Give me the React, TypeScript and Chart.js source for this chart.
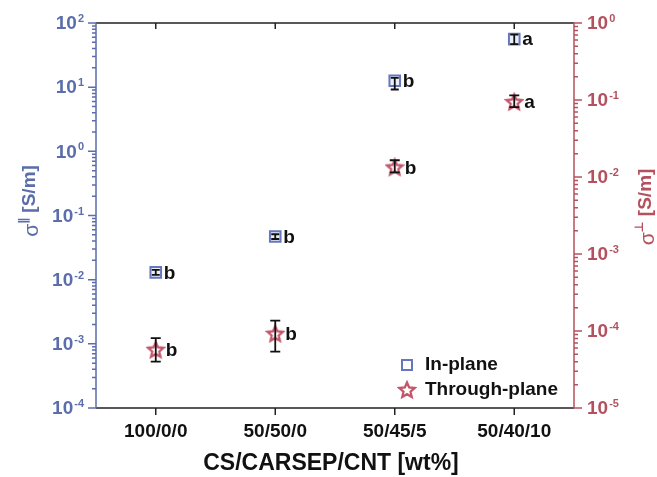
import React, { useEffect, useRef } from 'react';
import { Chart, registerables } from 'chart.js';

Chart.register(...registerables);

const categories = ['100/0/0', '50/50/0', '50/45/5', '50/40/10'];
const inPlane = [0.013, 0.047, 12.6, 56];
const inPlaneLow = [0.0119, 0.043, 9.2, 47];
const inPlaneHigh = [0.0142, 0.051, 14, 66];
const inPlaneLetters = ['b', 'b', 'b', 'a'];
const throughPlane = [5.7e-5, 9.2e-5, 0.0133, 0.094];
const throughLow = [4.0e-5, 5.4e-5, 0.0115, 0.081];
const throughHigh = [8.1e-5, 1.36e-4, 0.0165, 0.115];
const throughLetters = ['b', 'b', 'b', 'a'];
const leftExponents = [-4, -3, -2, -1, 0, 1, 2];
const rightExponents = [-5, -4, -3, -2, -1, 0];

const BLUE = '#5b6eab';
const RED = '#b5515f';
const SQ = '#6677bb';
const STAR = '#c4566c';
const FONT = 'Arial, "Liberation Sans", sans-serif';

function makeStar(): HTMLCanvasElement {
  const c = document.createElement('canvas');
  c.width = 20;
  c.height = 20;
  const g = c.getContext('2d')!;
  const cx = 10, cy = 10.5, R = 8, r = 3.7;
  g.beginPath();
  for (let i = 0; i < 10; i++) {
    const a = -Math.PI / 2 + (i * Math.PI) / 5;
    const rr = i % 2 === 0 ? R : r;
    const x = cx + rr * Math.cos(a);
    const y = cy + rr * Math.sin(a);
    if (i === 0) g.moveTo(x, y); else g.lineTo(x, y);
  }
  g.closePath();
  g.fillStyle = '#ffffff';
  g.fill();
  g.lineWidth = 2.3;
  g.strokeStyle = STAR;
  g.lineJoin = 'miter';
  g.stroke();
  return c;
}

function drawPow(ctx: CanvasRenderingContext2D, exp: number, x: number, y: number, align: 'left' | 'right', color: string) {
  ctx.save();
  ctx.fillStyle = color;
  ctx.textBaseline = 'middle';
  ctx.textAlign = 'left';
  ctx.font = `bold 19px ${FONT}`;
  const base = '10';
  const wb = ctx.measureText(base).width;
  ctx.font = `bold 11px ${FONT}`;
  const es = String(exp);
  const we = ctx.measureText(es).width;
  const total = wb + 1 + we;
  const x0 = align === 'right' ? x - total : x;
  ctx.font = `bold 19px ${FONT}`;
  ctx.fillText(base, x0, y + 1);
  ctx.font = `bold 11px ${FONT}`;
  ctx.textBaseline = 'alphabetic';
  ctx.fillText(es, x0 + wb + 1, y - 1);
  ctx.restore();
}

function drawTitle(ctx: CanvasRenderingContext2D, sym: string, cx: number, cy: number, color: string) {
  ctx.save();
  ctx.translate(cx, cy);
  ctx.rotate(-Math.PI / 2);
  ctx.fillStyle = color;
  ctx.textBaseline = 'middle';
  ctx.textAlign = 'left';
  ctx.font = `21px ${FONT}`;
  const ws = ctx.measureText('σ').width;
  ctx.font = `bold 12px "DejaVu Sans", sans-serif`;
  const wsup = ctx.measureText(sym).width;
  ctx.font = `bold 19px ${FONT}`;
  const wr = ctx.measureText(' [S/m]').width;
  const total = ws + wsup + wr;
  let x = -total / 2;
  ctx.font = `21px ${FONT}`;
  ctx.fillText('σ', x, 2);
  x += ws;
  ctx.font = `bold 12px "DejaVu Sans", sans-serif`;
  ctx.fillText(sym, x, -6);
  x += wsup;
  ctx.font = `bold 19px ${FONT}`;
  ctx.fillText(' [S/m]', x, 0);
  ctx.restore();
}

export default function App() {
  const ref = useRef<HTMLCanvasElement>(null);

  useEffect(() => {
    document.body.style.margin = '0';
    const canvas = ref.current!;
    const starImg = makeStar();

    const framePlugin = {
      id: 'frame',
      beforeDatasetsDraw(chart: any) {
        const ctx: CanvasRenderingContext2D = chart.ctx;
        const { left, right, top, bottom } = chart.chartArea;
        const x = chart.scales.x;
        const y = chart.scales.y;
        const y1 = chart.scales.y1;
        ctx.save();
        ctx.lineWidth = 1.5;
        ctx.strokeStyle = '#222222';
        ctx.beginPath();
        ctx.moveTo(left, top); ctx.lineTo(right, top);
        ctx.moveTo(left, bottom); ctx.lineTo(right, bottom);
        ctx.stroke();
        ctx.beginPath();
        categories.forEach((_, i) => {
          const px = x.getPixelForValue(i);
          ctx.moveTo(px, bottom); ctx.lineTo(px, bottom + 7);
          ctx.moveTo(px, top); ctx.lineTo(px, top + 6);
        });
        ctx.stroke();
        ctx.strokeStyle = BLUE;
        ctx.beginPath();
        ctx.moveTo(left, top); ctx.lineTo(left, bottom);
        for (let e = leftExponents[0]; e <= leftExponents[leftExponents.length - 1]; e++) {
          const py = y.getPixelForValue(Math.pow(10, e));
          ctx.moveTo(left, py); ctx.lineTo(left - 8, py);
          if (e < leftExponents[leftExponents.length - 1]) {
            for (let k = 2; k <= 9; k++) {
              const pm = y.getPixelForValue(k * Math.pow(10, e));
              ctx.moveTo(left, pm); ctx.lineTo(left - 4, pm);
            }
          }
        }
        ctx.stroke();
        ctx.strokeStyle = RED;
        ctx.beginPath();
        ctx.moveTo(right, top); ctx.lineTo(right, bottom);
        for (let e = rightExponents[0]; e <= rightExponents[rightExponents.length - 1]; e++) {
          const py = y1.getPixelForValue(Math.pow(10, e));
          ctx.moveTo(right, py); ctx.lineTo(right + 8, py);
          if (e < rightExponents[rightExponents.length - 1]) {
            for (let k = 2; k <= 9; k++) {
              const pm = y1.getPixelForValue(k * Math.pow(10, e));
              ctx.moveTo(right, pm); ctx.lineTo(right + 4, pm);
            }
          }
        }
        ctx.stroke();
        leftExponents.forEach((e) => drawPow(ctx, e, left - 12, y.getPixelForValue(Math.pow(10, e)), 'right', BLUE));
        rightExponents.forEach((e) => drawPow(ctx, e, right + 13, y1.getPixelForValue(Math.pow(10, e)), 'left', RED));
        ctx.fillStyle = '#111111';
        ctx.font = `bold 19px ${FONT}`;
        ctx.textAlign = 'center';
        ctx.textBaseline = 'middle';
        categories.forEach((c, i) => ctx.fillText(c, x.getPixelForValue(i), bottom + 24));
        ctx.font = `bold 23px ${FONT}`;
        ctx.fillText('CS/CARSEP/CNT [wt%]', (left + right) / 2 - 4, bottom + 56);
        drawTitle(ctx, '∥', 30, 201, BLUE);
        drawTitle(ctx, '⊥', 646, 207, RED);
        ctx.restore();
      },
      afterDatasetsDraw(chart: any) {
        const ctx: CanvasRenderingContext2D = chart.ctx;
        const x = chart.scales.x;
        const y = chart.scales.y;
        const y1 = chart.scales.y1;
        ctx.save();
        ctx.strokeStyle = '#111111';
        ctx.lineWidth = 1.8;
        const bars = (scale: any, lo: number[], hi: number[], cap: number) => {
          ctx.beginPath();
          lo.forEach((l, i) => {
            const px = x.getPixelForValue(i);
            const a = scale.getPixelForValue(l);
            const b = scale.getPixelForValue(hi[i]);
            ctx.moveTo(px, a); ctx.lineTo(px, b);
            ctx.moveTo(px - cap, a); ctx.lineTo(px + cap, a);
            ctx.moveTo(px - cap, b); ctx.lineTo(px + cap, b);
          });
          ctx.stroke();
        };
        bars(y, inPlaneLow, inPlaneHigh, 4);
        bars(y1, throughLow, throughHigh, 5);
        ctx.fillStyle = '#111111';
        ctx.font = `bold 19px ${FONT}`;
        ctx.textAlign = 'left';
        ctx.textBaseline = 'middle';
        inPlaneLetters.forEach((t, i) => ctx.fillText(t, x.getPixelForValue(i) + 8, y.getPixelForValue(inPlane[i]) + 1));
        throughLetters.forEach((t, i) => ctx.fillText(t, x.getPixelForValue(i) + 10, y1.getPixelForValue(throughPlane[i]) + 1));
        const lx = 407, ly1 = 365, ly2 = 390;
        ctx.strokeStyle = SQ;
        ctx.lineWidth = 2;
        ctx.strokeRect(lx - 5, ly1 - 5, 10, 10);
        ctx.drawImage(starImg, lx - 10, ly2 - 10);
        ctx.fillText('In-plane', 425, ly1);
        ctx.fillText('Through-plane', 425, ly2);
        ctx.restore();
      },
    };

    const chart = new Chart(canvas, {
      type: 'line',
      data: {
        labels: categories,
        datasets: [
          {
            label: 'In-plane',
            data: inPlane,
            yAxisID: 'y',
            showLine: false,
            pointStyle: 'rect',
            pointRadius: 7.5,
            borderWidth: 2,
            borderColor: SQ,
            backgroundColor: 'rgba(220,226,245,0.6)',
          },
          {
            label: 'Through-plane',
            data: throughPlane,
            yAxisID: 'y1',
            showLine: false,
            pointStyle: starImg as any,
            pointRadius: 8,
            borderColor: STAR,
            backgroundColor: '#ffffff',
          },
        ],
      },
      options: {
        responsive: false,
        animation: false,
        events: [],
        layout: { padding: { left: 96, right: 83, top: 23, bottom: 69 } },
        plugins: { legend: { display: false }, tooltip: { enabled: false } },
        scales: {
          x: { type: 'category', offset: true, display: false },
          y: { type: 'logarithmic', min: 1e-4, max: 1e2, display: false, position: 'left' },
          y1: { type: 'logarithmic', min: 1e-5, max: 1, display: false, position: 'right' },
        },
      },
      plugins: [framePlugin],
    });
    return () => chart.destroy();
  }, []);

  return (
    <div style={{ width: 657, height: 477, background: '#ffffff' }}>
      <canvas ref={ref} width={657} height={477} style={{ display: 'block' }} />
    </div>
  );
}
